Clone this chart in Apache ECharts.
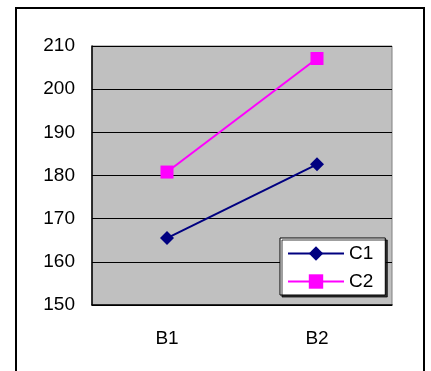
<!DOCTYPE html>
<html>
<head>
<meta charset="utf-8">
<script src="https://cdn.jsdelivr.net/npm/echarts@6/dist/echarts.min.js"></script>
<style>
  html, body { margin: 0; padding: 0; background: #fff; }
  #chart { width: 431px; height: 371px; }
</style>
</head>
<body>
<div id="chart"></div>
<script>
// Categories and series values
const categories = ['B1', 'B2'];
const seriesC1 = [165.5, 182.6];
const seriesC2 = [180.8, 207.1];
const seriesNames = ['C1', 'C2'];
const yTicks = { min: 150, max: 210, step: 10 };

const FONT = 'Liberation Sans, Arial, sans-serif';
const FONT_SIZE = 19;

const chart = echarts.init(document.getElementById('chart'), null, { renderer: 'canvas' });

chart.setOption({
  backgroundColor: '#ffffff',
  animation: false,
  textStyle: { fontFamily: FONT, color: '#000' },
  graphic: [{
    type: 'rect',
    z: -10,
    shape: { x: 16, y: 8, width: 408, height: 400 },
    style: { fill: 'none', stroke: '#000', lineWidth: 2 }
  }],
  grid: {
    left: 92, top: 46, width: 300, height: 259,
    show: true,
    backgroundColor: '#C0C0C0',
    borderColor: '#808080',
    borderWidth: 1
  },
  legend: {
    orient: 'vertical',
    left: 280, top: 238,
    data: seriesNames,
    backgroundColor: '#fff',
    borderColor: '#000',
    borderWidth: 1,
    padding: [6, 12, 4, 7],
    itemWidth: 56,
    itemHeight: 18,
    itemGap: 9,
    shadowColor: 'rgba(0,0,0,0.75)',
    shadowOffsetX: 2,
    shadowOffsetY: 2,
    shadowBlur: 0,
    textStyle: { fontSize: FONT_SIZE, fontFamily: FONT, color: '#000' }
  },
  xAxis: {
    type: 'category',
    data: categories,
    boundaryGap: true,
    axisLine: { lineStyle: { color: '#000', width: 1.5 } },
    axisTick: { inside: true, length: 5, lineStyle: { color: '#333' } },
    axisLabel: { fontSize: FONT_SIZE, color: '#000', margin: 24, fontFamily: FONT },
    splitLine: { show: false }
  },
  yAxis: {
    type: 'value',
    min: yTicks.min, max: yTicks.max, interval: yTicks.step,
    axisLine: { show: true, lineStyle: { color: '#000', width: 1.5 } },
    axisTick: { show: true, inside: true, length: 5, lineStyle: { color: '#000' } },
    axisLabel: { fontSize: FONT_SIZE, color: '#000', margin: 17, fontFamily: FONT },
    splitLine: { show: true, lineStyle: { color: '#000', width: 1 } }
  },
  series: [
    {
      name: seriesNames[0],
      type: 'line',
      data: seriesC1,
      symbol: 'diamond',
      symbolSize: 14,
      color: '#000080',
      lineStyle: { color: '#000080', width: 2 },
      itemStyle: { color: '#000080' }
    },
    {
      name: seriesNames[1],
      type: 'line',
      data: seriesC2,
      symbol: 'rect',
      symbolSize: 13,
      color: '#FF00FF',
      lineStyle: { color: '#FF00FF', width: 2 },
      itemStyle: { color: '#FF00FF' }
    }
  ]
});
</script>
</body>
</html>
